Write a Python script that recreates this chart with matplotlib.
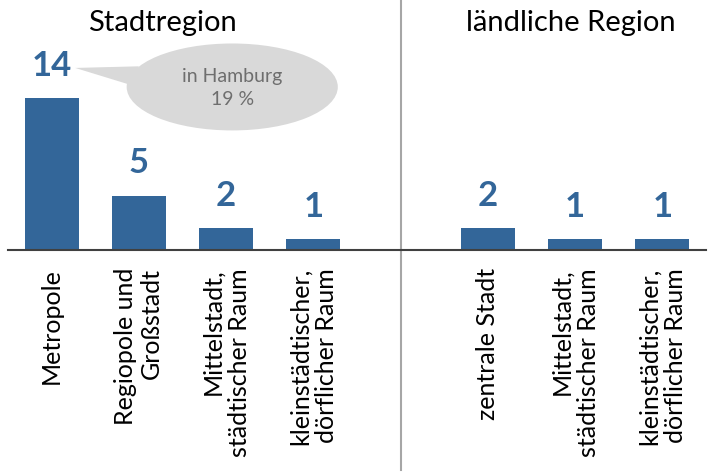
import matplotlib
matplotlib.use("Agg")
import matplotlib.pyplot as plt
from matplotlib.patches import Ellipse, Polygon
from matplotlib.transforms import blended_transform_factory

plt.rcParams['font.family'] = ['Lato', 'DejaVu Sans']

# Daten
kategorien = ["Metropole", "Regiopole und\nGroßstadt", "Mittelstadt,\nstädtischer Raum",
              "kleinstädtischer,\ndörflicher Raum", "",
              "zentrale Stadt", "Mittelstadt,\nstädtischer Raum", "kleinstädtischer,\ndörflicher Raum"]
werte = [14, 5, 2, 1, None, 2, 1, 1]
gruppen = ["Stadtregion", "ländliche Region"]
hinweis = "in Hamburg\n19 %"

blau = "#336699"

fig = plt.figure(figsize=(7.08, 4.74), dpi=100)
ax = fig.add_axes([8 / 708, 224 / 474, 698 / 708, 250 / 474])

xs = [i for i, v in enumerate(werte) if v is not None]
ys = [v for v in werte if v is not None]
ax.bar(xs, ys, width=0.62, color=blau)
for x, v in zip(xs, ys):
    ax.annotate(str(v), (x, v), xytext=(0, 16), textcoords="offset points",
                ha="center", va="baseline", fontsize=25, fontweight="bold", color=blau)

ax.set_xlim(-0.5, 7.5)
ax.set_ylim(0, 23)
ax.set_xticks(range(len(kategorien)))
ax.set_xticklabels(kategorien, rotation=90, ha="center", va="top",
                   multialignment="right", fontsize=18, linespacing=1.15)
ax.tick_params(axis="x", length=0, pad=13)
ax.set_yticks([])
for s in ["left", "right", "top"]:
    ax.spines[s].set_visible(False)
ax.spines["bottom"].set_color("#404040")
ax.spines["bottom"].set_linewidth(1.5)

# Trennlinie
tr = blended_transform_factory(ax.transData, fig.transFigure)
ax.plot([4, 4], [1, 1 - 470 / 474], transform=tr, color="#a6a6a6", lw=1.5, clip_on=False)

# Gruppentitel
fig.text(1.275, 1 - 31 / 474, gruppen[0], transform=tr, ha="center", va="baseline", fontsize=21)
fig.text(5.95, 1 - 31 / 474, gruppen[1], transform=tr, ha="center", va="baseline", fontsize=21)

# Sprechblase
grau = "#d9d9d9"
ax.add_patch(Polygon([(0.27, 16.75), (1.0, 16.9), (0.9, 15.2)], closed=True,
                     facecolor=grau, edgecolor="none", clip_on=False))
ax.add_patch(Ellipse((2.07, 15.0), 2.42, 8.0, facecolor=grau, edgecolor="none", clip_on=False))
ax.text(2.07, 14.9, hinweis, ha="center", va="center", fontsize=14, color="#6e6e6e",
        linespacing=1.45)

fig.savefig("out.png", dpi=100)
